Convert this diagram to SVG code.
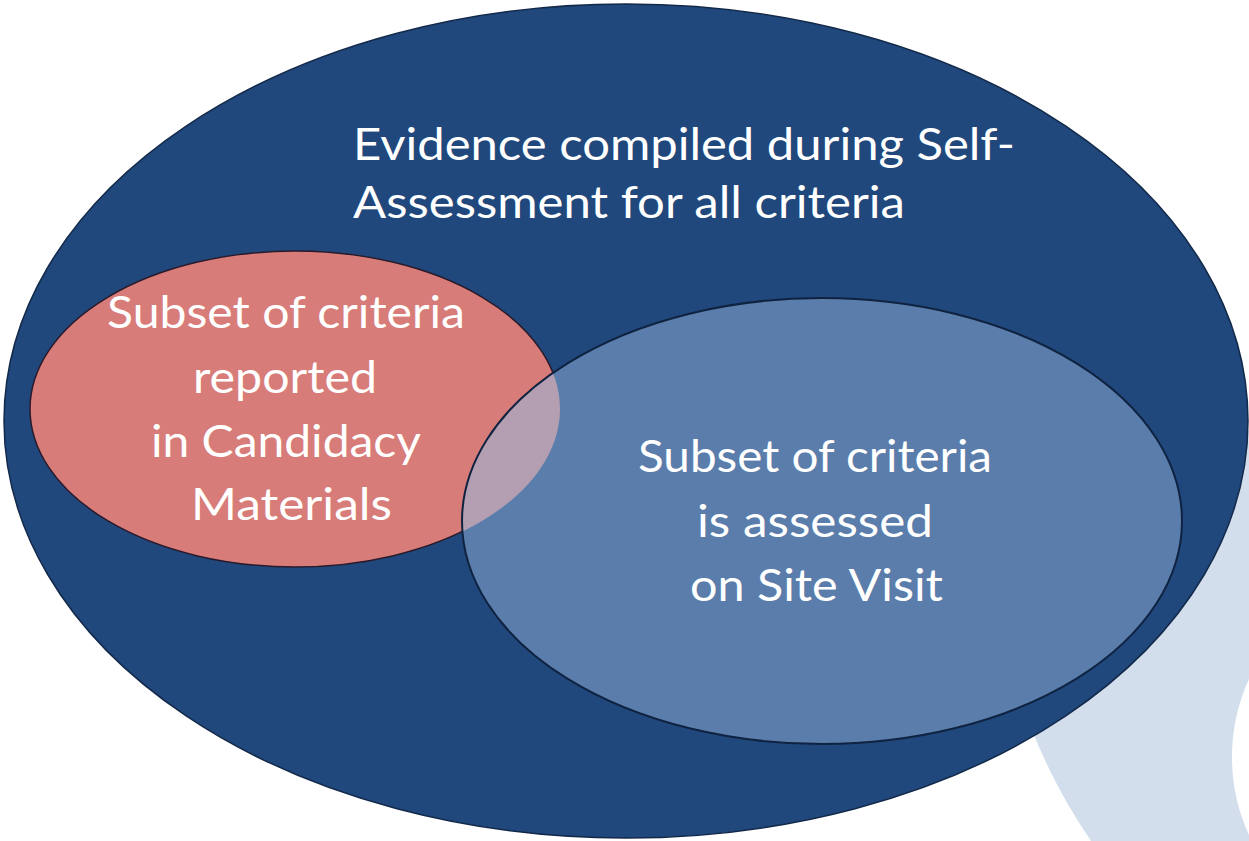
<svg xmlns="http://www.w3.org/2000/svg" width="1249" height="841" viewBox="0 0 1249 841">
  <defs>
    <style>
      .lbl { font-family: Lato, "Open Sans", "Liberation Sans", sans-serif; font-size: 44px; fill: #ffffff; }
    </style>
    <clipPath id="redClip">
      <ellipse cx="295" cy="409" rx="265" ry="158"/>
    </clipPath>
  </defs>
  <rect width="1249" height="841" fill="#ffffff"/>

  <g id="deco-ring">
    <path d="M 1249 430 L 1021 700 A 568 568 0 0 0 1091 841 L 1249 841 L 1249 835 A 187 187 0 0 1 1249 679 Z" fill="#D3DEEC"/>
  </g>

  <g id="node-self-assessment">
    <ellipse cx="626" cy="421" rx="622" ry="417" fill="#20487C" stroke="#12294A" stroke-width="1.5"/>
    <text class="lbl" x="353" y="160" textLength="662" lengthAdjust="spacingAndGlyphs">Evidence compiled during Self-</text>
    <text class="lbl" x="353" y="218" textLength="552" lengthAdjust="spacingAndGlyphs">Assessment for all criteria</text>
  </g>

  <g id="node-candidacy">
    <ellipse cx="295" cy="409" rx="265" ry="158" fill="#D77C78" stroke="#2A1B2C" stroke-width="1.5"/>
    <text class="lbl" x="107" y="328" textLength="358" lengthAdjust="spacingAndGlyphs">Subset of criteria</text>
    <text class="lbl" x="193" y="393" textLength="184" lengthAdjust="spacingAndGlyphs">reported</text>
    <text class="lbl" x="151" y="457" textLength="270" lengthAdjust="spacingAndGlyphs">in Candidacy</text>
    <text class="lbl" x="191" y="520" textLength="201" lengthAdjust="spacingAndGlyphs">Materials</text>
  </g>

  <g id="node-site-visit">
    <ellipse cx="822" cy="521" rx="360" ry="223" fill="#5A7DAB"/>
    <ellipse cx="822" cy="521" rx="360" ry="223" fill="#B49EB1" clip-path="url(#redClip)"/>
    <ellipse cx="822" cy="521" rx="360" ry="223" fill="none" stroke="#0F2341" stroke-width="2"/>
    <text class="lbl" x="638" y="472" textLength="354" lengthAdjust="spacingAndGlyphs">Subset of criteria</text>
    <text class="lbl" x="697" y="537" textLength="236" lengthAdjust="spacingAndGlyphs">is assessed</text>
    <text class="lbl" x="690" y="601" textLength="253" lengthAdjust="spacingAndGlyphs">on Site Visit</text>
  </g>

  <g id="connectors"/>
</svg>
